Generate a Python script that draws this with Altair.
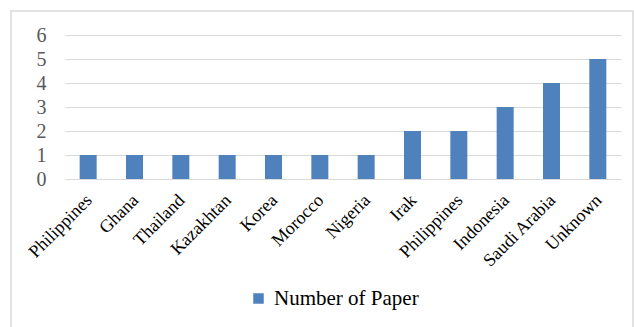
import altair as alt
import pandas as pd

countries = ["Philippines", "Ghana", "Thailand", "Kazakhtan", "Korea", "Morocco",
             "Nigeria", "Irak", "Philippines", "Indonesia", "Saudi Arabia", "Unknown"]
papers = [1, 1, 1, 1, 1, 1, 1, 2, 2, 3, 4, 5]
series_name = "Number of Paper"

df = pd.DataFrame({
    "idx": list(range(len(countries))),
    "country": countries,
    "papers": papers,
    "series": [series_name] * len(countries),
})

names_js = "[" + ",".join("'" + c + "'" for c in countries) + "]"
FONT = "Liberation Serif"

border = alt.Chart(pd.DataFrame({"a": [0]})).mark_rect(
    fillOpacity=0, stroke="#d9d9d9", strokeWidth=1.5
).encode(
    x=alt.value(-54), x2=alt.value(568), y=alt.value(-24), y2=alt.value(300)
)

bars = alt.Chart(df).mark_bar(size=17).encode(
    x=alt.X("idx:O", sort=None,
            scale=alt.Scale(paddingInner=0.63, paddingOuter=0.315),
            axis=alt.Axis(title=None, labelExpr=names_js + "[datum.value]",
                          labelAngle=-45, labelFont=FONT, labelFontSize=18,
                          labelColor="#000000", ticks=False, domain=False,
                          labelPadding=12, labelOffset=-5)),
    y=alt.Y("papers:Q", scale=alt.Scale(domain=[0, 6]),
            axis=alt.Axis(title=None, values=[0, 1, 2, 3, 4, 5, 6], grid=True,
                          gridColor="#d9d9d9", gridWidth=1.2, ticks=False, domain=False,
                          labelFont=FONT, labelFontSize=20, labelColor="#595959",
                          labelPadding=19)),
    color=alt.Color("series:N", scale=alt.Scale(range=["#4f81bd"]),
                    legend=alt.Legend(title=None, orient="none", legendX=183, legendY=253,
                                      symbolType="square", symbolSize=110,
                                      symbolStrokeWidth=0,
                                      labelFont=FONT, labelFontSize=21,
                                      labelColor="#000000", labelOffset=5)),
)

chart = alt.layer(border, bars).properties(
    width=556, height=144,
    padding={"left": 65, "top": 35, "right": 13, "bottom": 148},
    autosize=alt.AutoSizeParams(type="none"),
    background="white",
).configure_view(stroke=None)

chart.save("out.html", embed_options={"renderer": "svg", "actions": False})
